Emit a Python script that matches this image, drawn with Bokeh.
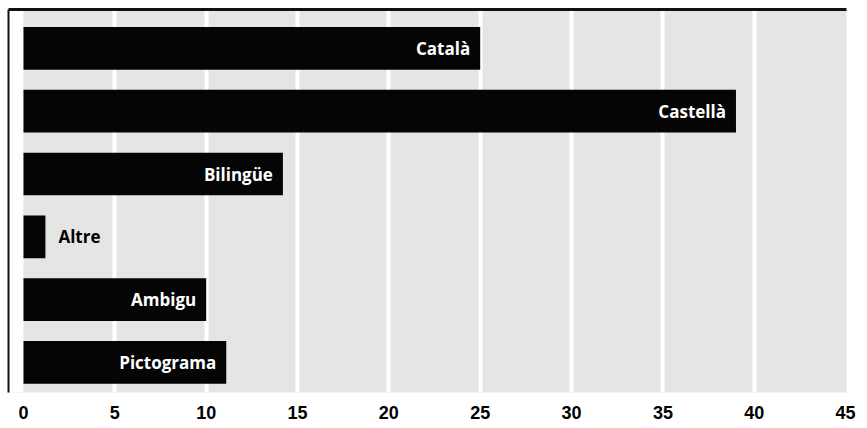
from bokeh.plotting import figure
from bokeh.models import ColumnDataSource, FixedTicker, Range1d, LinearAxis, BoxAnnotation
from bokeh.core.properties import value
from bokeh.embed import file_html
from bokeh.resources import INLINE

categories = ["Català", "Castellà", "Bilingüe", "Altre", "Ambigu", "Pictograma"]
counts = [25.0, 39.0, 14.2, 1.2, 10.0, 11.1]
x_ticks = [0, 5, 10, 15, 20, 25, 30, 35, 40, 45]

pos = list(range(len(categories)))
inside = [c >= 5 for c in counts]
src = ColumnDataSource(dict(
    y=pos,
    v=counts,
    label=categories,
    color=["white" if i else "black" for i in inside],
    align=["right" if i else "left" for i in inside],
    off=[-10 if i else 13 for i in inside],
))

p = figure(frame_width=838, frame_height=383, output_backend="svg", toolbar_location=None,
           x_range=Range1d(-0.82, 45.05), y_range=Range1d(5.48, -0.62),
           x_axis_location=None, y_axis_location=None,
           min_border_left=8, min_border_right=10, min_border_top=9, min_border_bottom=0)
p.outline_line_color = None
p.background_fill_color = "#e5e5e5"
p.border_fill_color = "white"

# white margin between the left rule and the zero line
p.add_layout(BoxAnnotation(right=0, fill_color="white", fill_alpha=1.0,
                           line_color=None, level="underlay"))

p.hbar(y="y", right="v", left=0, height=0.68, source=src,
       fill_color="#050505", line_color=None)
p.text(x="v", y="y", text="label", source=src, text_color="color",
       text_align="align", x_offset="off", text_baseline="middle",
       text_font=value("Open Sans"), text_font_style="bold", text_font_size="17px")

# rules on top and left
for loc in ("above", "left"):
    ax = LinearAxis(ticker=FixedTicker(ticks=[]), major_tick_out=0, major_tick_in=0,
                    minor_tick_out=0, minor_tick_in=0, major_label_standoff=0,
                    axis_line_color="#111111",
                    axis_line_width=3 if loc == "above" else 2)
    p.add_layout(ax, loc)

xax = LinearAxis(ticker=FixedTicker(ticks=x_ticks))
xax.axis_line_color = None
xax.major_tick_line_color = None
xax.minor_tick_line_color = None
xax.major_label_text_font = "Liberation Sans"
xax.major_label_text_font_style = "bold"
xax.major_label_text_font_size = "18px"
xax.major_label_text_color = "black"
xax.major_label_standoff = 7
p.add_layout(xax, "below")

p.ygrid.visible = False
p.xgrid.ticker = FixedTicker(ticks=x_ticks[1:-1])
p.xgrid.grid_line_color = "white"
p.xgrid.grid_line_width = 4

open("out.html", "w").write(file_html(p, INLINE))
